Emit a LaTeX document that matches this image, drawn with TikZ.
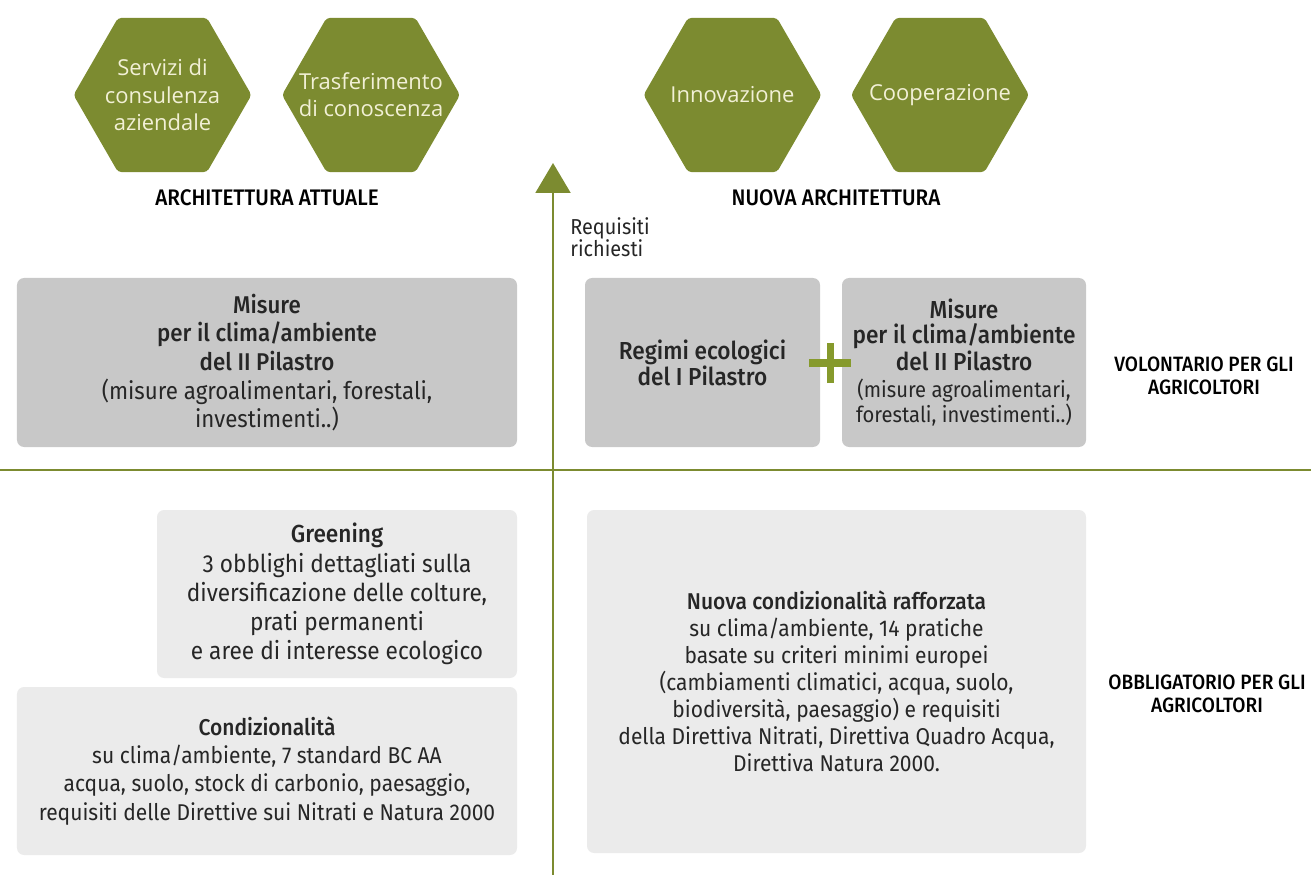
\documentclass[tikz,border=0pt]{standalone}
\usepackage{fontspec}
\setmainfont{Fira Sans}[FakeStretch=0.92, BoldFont={Fira Sans Medium}]
\newfontfamily\hexfont{Open Sans}
\usepackage{xcolor}
\usetikzlibrary{shapes.geometric, arrows.meta, positioning}

\definecolor{agrigreen}{RGB}{124,139,48}
\definecolor{plusgreen}{RGB}{134,154,44}
\definecolor{hexink}{RGB}{242,240,214}
\definecolor{boxdark}{RGB}{200,200,200}
\definecolor{boxlight}{RGB}{235,235,235}
\definecolor{ink}{RGB}{38,38,38}

\begin{document}
\begin{tikzpicture}[
    font=\fontsize{13}{16}\selectfont,
    text=ink,
    hexa/.style={regular polygon, regular polygon sides=6, minimum size=3.56cm,
                 inner sep=0pt, fill=agrigreen, rounded corners=2pt},
    hexlab/.style={align=center, text=hexink, font=\hexfont\fontsize{12.5}{15.5}\selectfont},
    darkbox/.style={fill=boxdark, rounded corners=4pt, align=center, inner sep=0pt},
    lightbox/.style={fill=boxlight, rounded corners=4pt, align=center, inner sep=0pt},
    sidelab/.style={align=center, text=black, font=\fontsize{11.8}{13}\selectfont\bfseries},
    reqlab/.style={align=left, inner sep=0pt, font=\fontsize{12.3}{12.5}\selectfont},
    arr/.style={-{Triangle[width=0.7cm, length=0.6cm]}, line width=1.2pt, draw=agrigreen},
    axis/.style={line width=1.1pt, draw=agrigreen},
    plusbar/.style={line width=4pt, draw=plusgreen}
]

\useasboundingbox (0,0) rectangle (26.22,-17.5);

% Hexagons on top
\node[hexa] (consul) at (3.25,-1.9)  {};
\node[hexa] (transf) at (7.42,-1.9)  {};
\node[hexa] (innov)  at (14.65,-1.9) {};
\node[hexa] (coop)   at (18.8,-1.9)  {};
\node[hexlab] at (consul) {Servizi di\\consulenza\\aziendale};
\node[hexlab] at (transf) {Trasferimento\\di conoscenza};
\node[hexlab] at (innov)  {Innovazione};
\node[hexlab] at (coop)   {Cooperazione};

\node[sidelab, font=\fontsize{12.8}{14}\selectfont\bfseries] (attuale) at (5.34,-3.96) {ARCHITETTURA ATTUALE};
\node[sidelab, font=\fontsize{12.8}{14}\selectfont\bfseries] (nuova)   at (16.72,-3.96) {NUOVA ARCHITETTURA};

% Axes
\coordinate (axbot) at (11.06,-17.5);
\coordinate (axtop) at (11.06,-3.26);
\draw[arr] (axbot) -- (axtop);
\node[reqlab, anchor=west] (req) at (11.4,-4.75) {Requisiti\\richiesti};

\coordinate (hleft)  at (0,-9.4);
\coordinate (hright) at (26.22,-9.4);
\draw[axis] (hleft) -- (hright);

% Voluntary row
\node[darkbox, minimum width=10cm, minimum height=3.38cm,
      font=\fontsize{13.8}{16.3}\selectfont] (misatt) at (5.34,-7.25)
    {\textbf{Misure}\\\textbf{per il clima/ambiente}\\\textbf{del II Pilastro}\\
     (misure agroalimentari, forestali,\\investimenti..)};
\node[darkbox, minimum width=4.7cm, minimum height=3.38cm,
      font=\fontsize{14}{14.8}\selectfont] (regimi) at (14.05,-7.25)
    {\textbf{Regimi ecologici}\\\textbf{del I Pilastro}};
\node[darkbox, minimum width=4.88cm, minimum height=3.38cm,
      font=\fontsize{14}{14.2}\selectfont] (misnew) at (19.28,-7.25)
    {\textbf{Misure}\\\textbf{per il clima/ambiente}\\\textbf{del II Pilastro}\\[1pt]
     {\fontsize{12.5}{12.5}\selectfont (misure agroalimentari,}\\
     {\fontsize{12.5}{12.5}\selectfont forestali, investimenti..)}};
\coordinate (plus) at (16.6,-7.26);
\draw[plusbar] ([xshift=-0.42cm]plus) -- ([xshift=0.42cm]plus);
\draw[plusbar] ([yshift=-0.4cm]plus) -- ([yshift=0.4cm]plus);
\node[sidelab] (volont) at (24.08,-7.52) {VOLONTARIO PER GLI\\AGRICOLTORI};

% Mandatory row
\node[lightbox, minimum width=7.2cm, minimum height=3.36cm,
      font=\fontsize{14}{16.6}\selectfont] (greening) at (6.74,-11.88)
    {\textbf{Greening}\\3 obblighi dettagliati sulla\\diversificazione delle colture,\\
     prati permanenti\\e aree di interesse ecologico};
\node[lightbox, minimum width=10cm, minimum height=3.36cm] (condiz) at (5.34,-15.42)
    {\textbf{Condizionalità}\\su clima/ambiente, 7 standard BC AA\\
     acqua, suolo, stock di carbonio, paesaggio,\\
     requisiti delle Direttive sui Nitrati e Natura 2000};
\node[lightbox, minimum width=9.98cm, minimum height=6.86cm,
      font=\fontsize{13}{15.4}\selectfont] (nuovacond) at (16.73,-13.63)
    {\textbf{Nuova condizionalità rafforzata}\\su clima/ambiente, 14 pratiche\\
     basate su criteri minimi europei\\(cambiamenti climatici, acqua, suolo,\\
     biodiversità, paesaggio) e requisiti\\
     della Direttiva Nitrati, Direttiva Quadro Acqua,\\Direttiva Natura 2000.};
\node[sidelab] (obblig) at (24.14,-13.88) {OBBLIGATORIO PER GLI\\AGRICOLTORI};

\end{tikzpicture}
\end{document}
